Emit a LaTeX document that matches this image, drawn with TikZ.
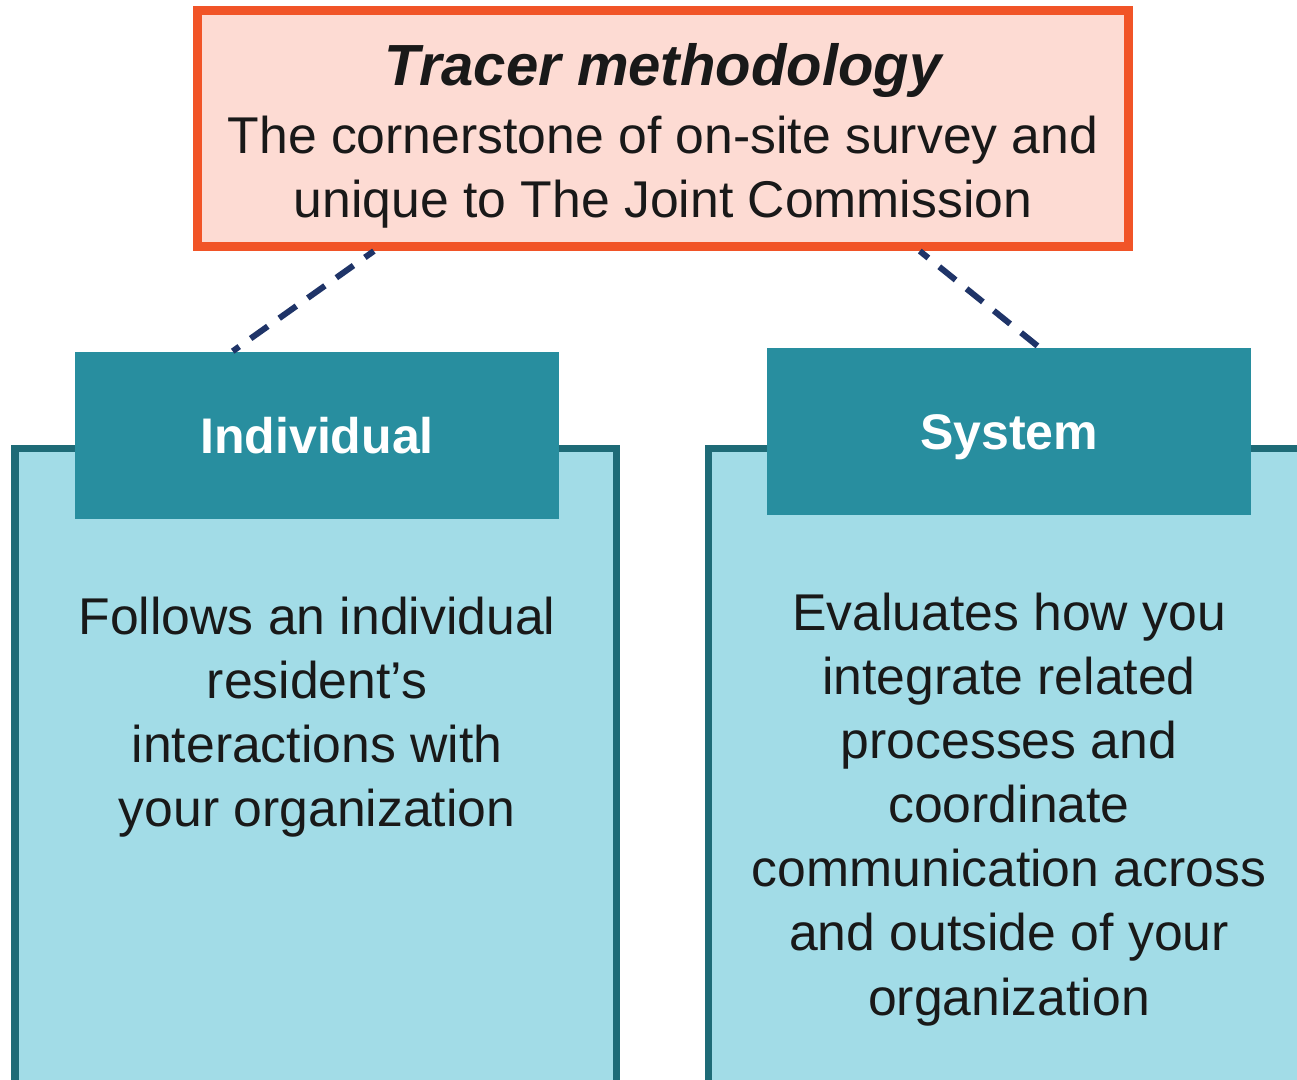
\documentclass[tikz,border=0pt]{standalone}
\usepackage{fontspec}
\setmainfont{Liberation Sans}
\usetikzlibrary{calc}

\definecolor{tracerorange}{HTML}{F15427}
\definecolor{tracerpink}{HTML}{FDDBD3}
\definecolor{headteal}{HTML}{288E9F}
\definecolor{bodyblue}{HTML}{A2DCE7}
\definecolor{bodyedge}{HTML}{1E6B77}
\definecolor{linknavy}{HTML}{1F3468}

\newcommand\bodysize{\fontsize{14.7}{18.2}\selectfont}
\newcommand\headsize{\fontsize{14.23}{18.2}\selectfont}
\newcommand\titlesize{\fontsize{16.5}{19.8}\selectfont}

\tikzset{
	bodybox/.style={draw=bodyedge, fill=bodyblue, line width=0.07cm},
	headbox/.style={fill=headteal, text=white, font=\headsize\bfseries,
		minimum width=4.84cm, minimum height=1.67cm, inner sep=0pt,
		text height=0.36cm, text depth=0pt},
	bodytext/.style={anchor=base, align=center, font=\bodysize, text=black!90},
	link/.style={draw=linknavy, line width=0.06cm, dash pattern=on 0.21cm off 0.14cm, dash phase=0.1cm}
}

\begin{document}
\begin{tikzpicture}[x=0.01cm,y=-0.01cm]
		\useasboundingbox (0,0) rectangle (1297,1080);
		
		% lower panels
		\draw[bodybox] (15,448.5) rectangle (616.5,1110);
		\draw[bodybox] (708,448.5) rectangle (1330,1110);
		
		\node[headbox] (ind head) at (317,435.5) {Individual};
		\node[headbox] (sys head) at (1009,431.5) {System};
		
		% base = last line
		\node[bodytext] (ind text) at (317,827) {Follows an individual\\resident’s\\interactions with\\your organization};
		\node[bodytext] (sys text) at (1009,1015) {Evaluates how you\\integrate related\\processes and\\coordinate\\communication across\\and outside of your\\organization};
		
		% top box
		\node[draw=tracerorange, fill=tracerpink, line width=0.09cm,
			minimum width=9.31cm, minimum height=2.355cm] (tracer) at (663,128.75) {};
		\node[anchor=base, font=\titlesize\bfseries\itshape, text=black!90] (title) at (663,86) {Tracer methodology};
		\node[bodytext] (subtitle) at (663,218) {The cornerstone of on-site survey and\\unique to The Joint Commission};
		
		\draw[link] ($(tracer.south west)!0.1926!(tracer.south east)$) -- ($(ind head.north west)!0.3264!(ind head.north east)$);
		\draw[link] ($(tracer.south west)!0.773!(tracer.south east)$) -- ($(sys head.north west)!0.562!(sys head.north east)$);
		
	\end{tikzpicture}
\end{document}
